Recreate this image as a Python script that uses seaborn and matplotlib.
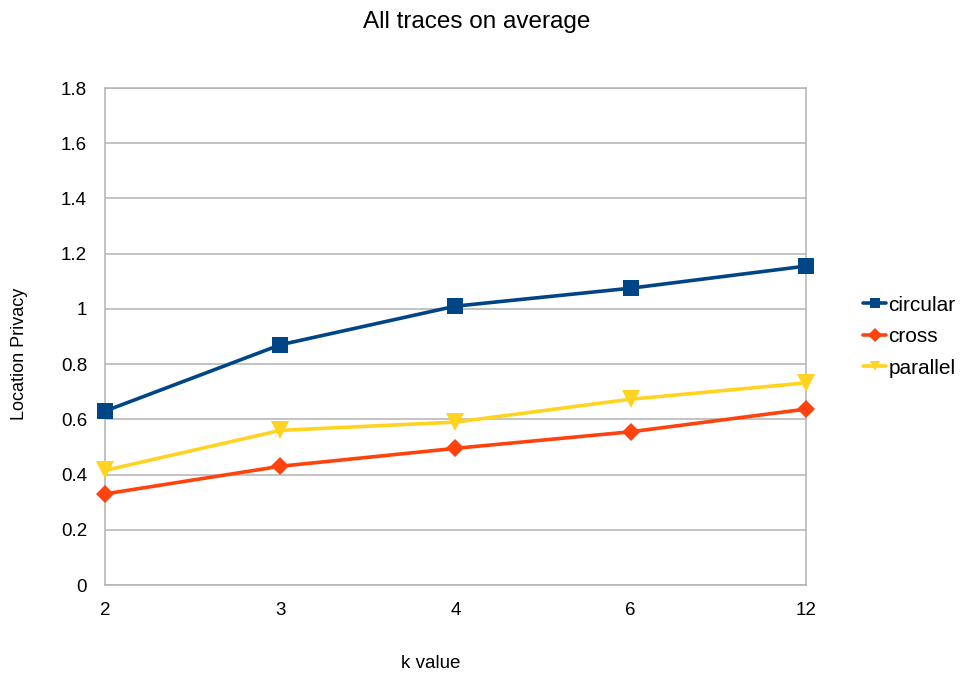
import matplotlib
matplotlib.use("Agg")
import matplotlib.pyplot as plt
import seaborn as sns
import pandas as pd

k_values = ["2", "3", "4", "6", "12"]
circular = [0.63, 0.87, 1.01, 1.075, 1.155]
cross = [0.33, 0.43, 0.495, 0.555, 0.637]
parallel = [0.415, 0.56, 0.59, 0.673, 0.732]

series_names = ["circular", "cross", "parallel"]
colors = {"circular": "#004586", "cross": "#ff420e", "parallel": "#ffd320"}
markers = {"circular": "s", "cross": "D", "parallel": "v"}
msizes = {"circular": 12, "cross": 9, "parallel": 13}

df = pd.DataFrame({
    "k": k_values * 3,
    "pos": list(range(len(k_values))) * 3,
    "value": circular + cross + parallel,
    "series": sum([[n] * len(k_values) for n in series_names], []),
})

sns.set_style("white")
plt.rcParams["font.family"] = ["Liberation Sans", "DejaVu Sans"]
plt.rcParams["text.color"] = "black"
plt.rcParams["axes.labelcolor"] = "black"

fig = plt.figure(figsize=(9.64, 6.76), dpi=100)
ax = fig.add_axes([0.109, 0.1346, 0.727, 0.7352])

for name in series_names:
    sub = df[df["series"] == name]
    sns.lineplot(data=sub, x="pos", y="value", ax=ax, color=colors[name],
                 linewidth=2.6, marker=markers[name], markersize=msizes[name],
                 markeredgewidth=0, label=name, zorder=3, clip_on=False)

ax.set_xlim(0, len(k_values) - 1)
ax.set_ylim(0, 1.8)
ax.set_xticks(range(len(k_values)))
ax.set_xticklabels(k_values)
ax.set_yticks([0, 0.2, 0.4, 0.6, 0.8, 1, 1.2, 1.4, 1.6, 1.8])
ax.set_yticklabels(["0", "0.2", "0.4", "0.6", "0.8", "1", "1.2", "1.4", "1.6", "1.8"])

# horizontal grid only; the frame gives the outer verticals
ax.grid(True, axis="y", color="#b3b3b3", linewidth=1.1)
ax.grid(False, axis="x")
for s in ax.spines.values():
    s.set_color("#b3b3b3")
    s.set_linewidth(1.1)
ax.tick_params(axis="both", which="major", length=7, width=1.1, color="#b3b3b3",
               labelsize=13.5, direction="out", colors="#b3b3b3", labelcolor="black")
ax.tick_params(axis="x", pad=5)
ax.tick_params(axis="y", pad=6)

ax.set_xlabel("k value", fontsize=13.5)
ax.xaxis.set_label_coords(0.465, -0.14)
ax.set_ylabel("Location Privacy", fontsize=13)
ax.yaxis.set_label_coords(-0.11, 0.465)
fig.text(0.495, 0.968, "All traces on average", ha="center", va="center", fontsize=17.5)

leg = ax.legend(loc="center left", bbox_to_anchor=(1.07, 0.5), frameon=False,
                fontsize=15, handlelength=1.1, handletextpad=0.1, labelspacing=0.6,
                borderaxespad=0)
for h in leg.legend_handles:
    h.set_markersize(7)
    h.set_linewidth(2.6)

fig.savefig("out.png", dpi=100)
